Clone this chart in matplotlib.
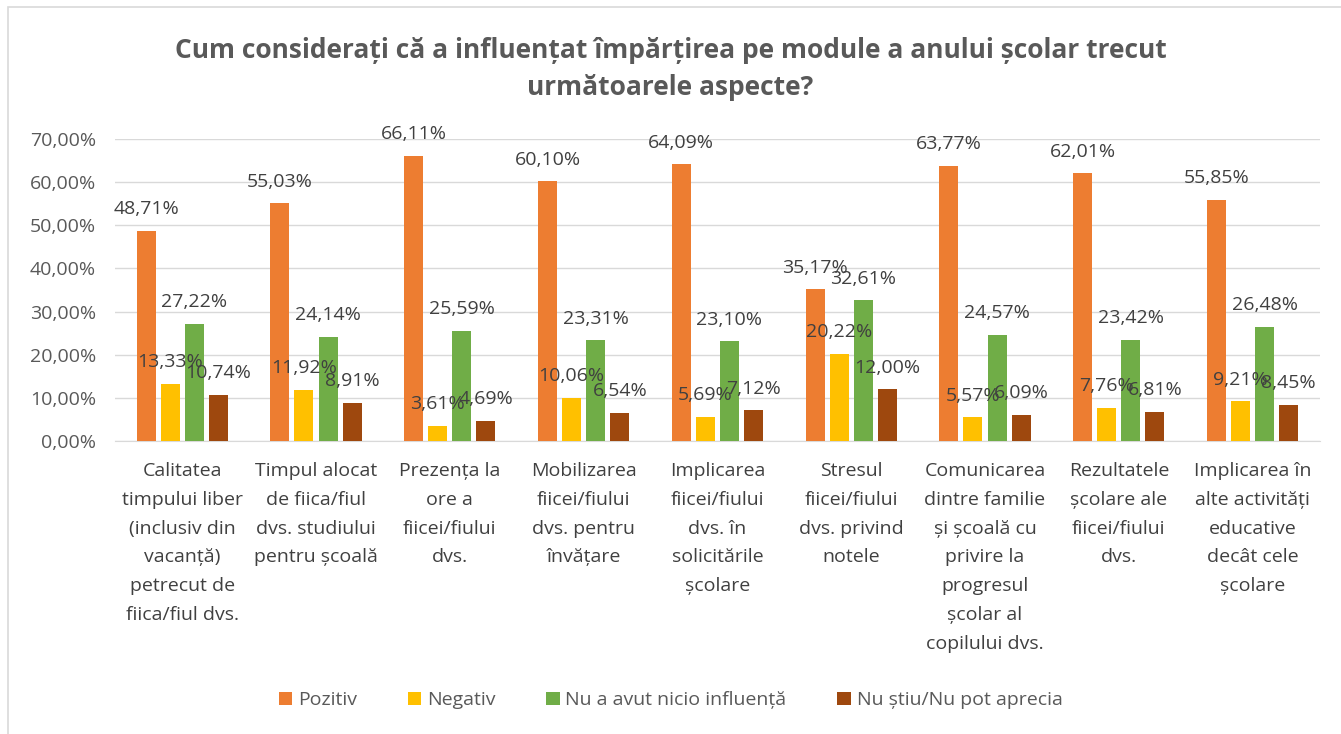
import matplotlib
matplotlib.use("Agg")
import matplotlib.pyplot as plt
import numpy as np
from matplotlib.patches import Rectangle

categories = [
    "Calitatea\ntimpului liber\n(inclusiv din\nvacanță)\npetrecut de\nfiica/fiul dvs.",
    "Timpul alocat\nde fiica/fiul\ndvs. studiului\npentru școală",
    "Prezența la\nore a\nfiicei/fiului\ndvs.",
    "Mobilizarea\nfiicei/fiului\ndvs. pentru\nînvățare",
    "Implicarea\nfiicei/fiului\ndvs. în\nsolicitările\nșcolare",
    "Stresul\nfiicei/fiului\ndvs. privind\nnotele",
    "Comunicarea\ndintre familie\nși școală cu\nprivire la\nprogresul\nșcolar al\ncopilului dvs.",
    "Rezultatele\nșcolare ale\nfiicei/fiului\ndvs.",
    "Implicarea în\nalte activități\neducative\ndecât cele\nșcolare",
]
series_names = ["Pozitiv", "Negativ", "Nu a avut nicio influență", "Nu știu/Nu pot aprecia"]
pozitiv = [48.71, 55.03, 66.11, 60.10, 64.09, 35.17, 63.77, 62.01, 55.85]
negativ = [13.33, 11.92, 3.61, 10.06, 5.69, 20.22, 5.57, 7.76, 9.21]
nicio = [27.22, 24.14, 25.59, 23.31, 23.10, 32.61, 24.57, 23.42, 26.48]
nu_stiu = [10.74, 8.91, 4.69, 6.54, 7.12, 12.00, 6.09, 6.81, 8.45]
y_ticks = [0, 10, 20, 30, 40, 50, 60, 70]
title = "Cum considerați că a influențat împărțirea pe module a anului școlar trecut\nurmătoarele aspecte?"

colors = ["#ED7D31", "#FFC000", "#70AD47", "#9E480E"]
txt = "#404040"
plt.rcParams['font.family'] = ['Open Sans', 'DejaVu Sans']

fig = plt.figure(figsize=(13.41, 7.34), dpi=100)
ax = fig.add_axes([0.086, 0.399, 0.898, 0.412])
fig.patches.append(Rectangle((0.006, -0.01), 1.0, 1.0, transform=fig.transFigure,
                             fill=False, edgecolor="#d9d9d9", linewidth=1.2))

x = np.arange(len(categories))
w = 0.142
step = 0.18
all_series = [pozitiv, negativ, nicio, nu_stiu]
for i, (vals, name, c) in enumerate(zip(all_series, series_names, colors)):
    bars = ax.bar(x + (i - 1.5) * step, vals, w, color=c, label=name, zorder=3)
    ax.bar_label(bars, labels=[f"{v:.2f}".replace(".", ",") + "%" for v in vals],
                 padding=9, fontsize=14, color=txt, clip_on=False, zorder=4)

ax.set_xlim(-0.5, len(categories) - 0.5)
ax.set_ylim(0, 70)
ax.set_yticks(y_ticks)
ax.set_yticklabels([f"{t:.2f}".replace(".", ",") + "%" for t in y_ticks], fontsize=14, color="#595959")
ax.set_xticks(x)
ax.set_xticklabels(categories, fontsize=14, color=txt, linespacing=1.77, va="top")
ax.tick_params(axis="both", length=0)
ax.tick_params(axis="x", pad=15)
ax.tick_params(axis="y", pad=14)
ax.grid(axis="y", color="#d9d9d9", linewidth=1, zorder=0)
for s in ["top", "right", "left"]:
    ax.spines[s].set_visible(False)
ax.spines["bottom"].set_color("#d9d9d9")

fig.text(0.5, 0.906, title, ha="center", va="center", fontsize=19, fontweight="bold",
         color="#595959", linespacing=1.45)

fig.legend(loc="center", bbox_to_anchor=(0.5, 0.046), ncol=4, frameon=False, fontsize=14,
           handlelength=0.7, handleheight=0.7, handletextpad=0.3, columnspacing=2.6,
           labelcolor="#595959")

fig.savefig("out.png", dpi=100)
